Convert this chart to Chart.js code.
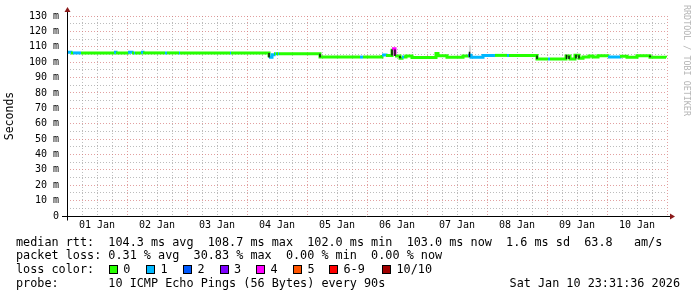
<!DOCTYPE html>
<html>
<head>
<meta charset="utf-8">
<script src="https://cdn.jsdelivr.net/npm/chart.js@4.4.1/dist/chart.umd.min.js"></script>
<style>
  html, body { margin: 0; padding: 0; background: #fff; }
  #wrap { position: relative; width: 697px; height: 297px; overflow: hidden; }
  .row { position: absolute; left: 16px; font-family: 'DejaVu Sans Mono', monospace; font-size: 11.8px; line-height: 14px; white-space: pre; color: #000; }
  .sq { position: absolute; width: 7px; height: 7px; border: 1px solid #000; }
  .lbl { position: absolute; font-family: 'DejaVu Sans Mono', monospace; font-size: 11.8px; line-height: 14px; white-space: pre; }
  #stamp { position: absolute; left: 0; top: 0; font-family: 'DejaVu Sans Mono', monospace; font-size: 8.4px; color: #b4b4b4; white-space: pre; transform-origin: 0 0; transform: translate(692px, 5px) rotate(90deg); }
</style>
</head>
<body>
<div id="wrap">
  <canvas id="rtt" width="697" height="297"></canvas>
  <div id="stamp">RRDTOOL / TOBI OETIKER</div>
  <div class="row" style="top:234.5px">median rtt:  104.3 ms avg  108.7 ms max  102.0 ms min  103.0 ms now  1.6 ms sd  63.8   am/s</div>
  <div class="row" style="top:248px">packet loss: 0.31 % avg  30.83 % max  0.00 % min  0.00 % now</div>
  <div class="row" style="top:262px">loss color:</div>
  <div class="row" style="top:276px">probe:       10 ICMP Echo Pings (56 Bytes) every 90s</div>
  <div class="row" style="top:276px; left:auto; right:17px">Sat Jan 10 23:31:36 2026</div>
  <div id="legend"></div>
</div>
<script>
// 時間軸：從 01 Jan 00:00 起算的小時數
const hours = [0, 1.6, 2.4, 5.6, 18.8, 19.6, 24.4, 26, 26.8, 27.2, 29.6, 30.4, 39.2, 40, 44.8, 45.2,
  65.2, 65.6, 80.8, 82, 82.8, 83.2, 83.6, 84.4, 84.8, 101.2, 117.2, 118.4, 126, 127.6, 130, 131.2,
  133.2, 134, 134.8, 135.6, 138, 147.6, 148.4, 152, 158.4, 160.4, 161.6, 166.4, 171.2, 176, 176.8,
  188, 192.4, 193.2, 199.6, 201.2, 203.2, 204.8, 206.4, 208.8, 210.4, 212.4, 216.4, 221.2, 224,
  228, 233.2, 239.6];
// median rtt (ms)
const medianMs = [106.5, 106.0, 106.0, 106.0, 106.4, 106.0, 106.4, 106.0, 106.0, 106.0, 106.4, 106.0, 106.0, 106.0, 106.0, 106.0,
  106.0, 106.0, 103.2, 104.8, 105.4, 105.4, 105.4, 105.4, 105.4, 103.3, 103.3, 103.3, 104.6, 104.3, 108.7, 104.0,
  102.6, 103.3, 103.3, 104.0, 103.0, 105.6, 104.2, 103.2, 104.0, 104.5, 103.2, 104.4, 104.4, 104.4, 104.4,
  102.1, 102.1, 102.1, 104.0, 102.1, 104.5, 102.6, 103.3, 104.0, 103.4, 104.1, 103.4, 103.9, 103.2,
  104.2, 103.2, 103.0];
// 每個區段遺失的封包數 (0~10)
const lossCount = [1, 0, 1, 0, 1, 0, 1, 0, 1, 0, 1, 0, 1, 0, 1, 0,
  1, 0, 1, 1, 0, 1, 0, 1, 0, 0, 1, 0, 1, 0, 4, 0,
  0, 1, 0, 0, 0, 0, 0, 0, 0, 1, 1, 1, 0, 1, 0,
  0, 1, 0, 0, 0, 0, 0, 0, 0, 0, 0, 1, 0, 0,
  0, 0, 0];

// 深色的垂直煙霧線
const spikeHours = [80.8, 101.2, 130, 131.2, 133.2, 161, 188, 199.8, 200.8, 203.6, 204.8, 233.2];
const spikeLow   = [103.0, 103.2, 104.3, 104.0, 102.6, 103.2, 102.1, 102.1, 102.1, 102.4, 102.4, 103.2];
const spikeHigh  = [106.0, 105.4, 108.2, 108.2, 104.0, 106.8, 104.4, 104.8, 104.2, 104.8, 104.5, 104.4];
// 淺灰煙霧
const smokeHours = [161.2];
const smokeLow   = [104.0];
const smokeHigh  = [110.8];

const dayLabels = ['01 Jan', '02 Jan', '03 Jan', '04 Jan', '05 Jan', '06 Jan', '07 Jan', '08 Jan', '09 Jan', '10 Jan'];
const lossNames = ['0', '1', '2', '3', '4', '5', '6-9', '10/10'];
const lossColors = ['#26ff00', '#00b8ff', '#0059ff', '#7e00ff', '#ff00ff', '#ff5500', '#ff0000', '#a10000'];

function colorForLoss(n) {
  if (n <= 5) return lossColors[n];
  if (n < 10) return lossColors[6];
  return lossColors[7];
}

function pairs(xs, lo, hi) {
  return xs.flatMap((h, i) => [{x: h, y: lo[i]}, {x: h, y: hi[i]}, {x: h, y: null}]);
}

// 圖例色塊
const legendX = [108.7, 146, 183, 219.5, 256, 293, 329, 382];
const legend = document.getElementById('legend');
lossNames.forEach((name, i) => {
  const sq = document.createElement('div');
  sq.className = 'sq';
  sq.style.left = legendX[i] + 'px';
  sq.style.top = '265px';
  sq.style.background = lossColors[i];
  legend.appendChild(sq);
  const t = document.createElement('div');
  t.className = 'lbl';
  t.style.left = (legendX[i] + 14.5) + 'px';
  t.style.top = '262px';
  t.innerText = name;
  legend.appendChild(t);
});

const RED_GRID = 'rgba(214, 120, 120, 0.7)';
const GRAY_GRID = 'rgba(160, 160, 160, 0.7)';
const MONO = 'DejaVu Sans Mono';

// 軸線與箭頭
const axisArrows = {
  id: 'axisArrows',
  afterDraw(chart) {
    const {ctx, chartArea} = chart;
    const x0 = chartArea.left + 0.5, y0 = chartArea.bottom + 0.5;
    ctx.save();
    ctx.strokeStyle = '#000';
    ctx.lineWidth = 1;
    ctx.beginPath();
    ctx.moveTo(62, y0);
    ctx.lineTo(671, y0);
    ctx.moveTo(x0, y0 + 4);
    ctx.lineTo(x0, 11);
    ctx.stroke();
    ctx.fillStyle = '#8b1a1a';
    ctx.beginPath();
    ctx.moveTo(670, y0 - 3);
    ctx.lineTo(675, y0);
    ctx.lineTo(670, y0 + 3);
    ctx.fill();
    ctx.beginPath();
    ctx.moveTo(x0 - 3, 12);
    ctx.lineTo(x0, 7);
    ctx.lineTo(x0 + 3, 12);
    ctx.fill();
    ctx.restore();
  }
};

new Chart(document.getElementById('rtt').getContext('2d'), {
  type: 'line',
  data: {
    datasets: [
      {
        data: pairs(smokeHours, smokeLow, smokeHigh),
        borderColor: '#bbbbbb',
        borderWidth: 1,
        pointRadius: 0,
        spanGaps: false,
        order: 3
      },
      {
        data: hours.map((h, i) => ({x: h, y: medianMs[i]})),
        stepped: 'before',
        borderWidth: 3,
        borderColor: lossColors[0],
        borderCapStyle: 'butt',
        borderJoinStyle: 'miter',
        pointRadius: 0,
        segment: {
          borderColor: c => colorForLoss(lossCount[c.p0DataIndex])
        },
        order: 2
      },
      {
        data: pairs(spikeHours, spikeLow, spikeHigh),
        borderColor: '#111111',
        borderWidth: 1.5,
        pointRadius: 0,
        spanGaps: false,
        order: 1
      }
    ]
  },
  options: {
    responsive: false,
    animation: false,
    events: [],
    layout: { padding: { left: 0, top: 16, right: 30, bottom: 61 } },
    plugins: { legend: { display: false }, tooltip: { enabled: false } },
    scales: {
      x: {
        type: 'linear',
        min: 0,
        max: 240,
        offset: false,
        afterFit: s => { s.height = 20; },
        border: { display: false, dash: [1, 2] },
        grid: {
          drawTicks: false,
          offset: false,
          color: c => (c.tick && c.tick.value % 24 === 0) ? RED_GRID : GRAY_GRID
        },
        ticks: {
          stepSize: 6,
          autoSkip: false,
          maxRotation: 0,
          padding: 3,
          color: '#000',
          font: { family: MONO, size: 10 },
          callback: v => (v % 24 === 12) ? dayLabels[(v - 12) / 24] : ''
        }
      },
      y: {
        min: 0,
        max: 130,
        afterFit: s => { s.width = 67; },
        border: { display: false, dash: [1, 2] },
        grid: {
          drawTicks: false,
          color: c => (c.tick && c.tick.value % 10 === 0) ? RED_GRID : GRAY_GRID
        },
        title: {
          display: true,
          text: 'Seconds',
          color: '#000',
          padding: { top: 3, bottom: 0 },
          font: { family: MONO, size: 11.5 }
        },
        ticks: {
          stepSize: 5,
          autoSkip: false,
          padding: 8,
          color: '#000',
          font: { family: MONO, size: 10 },
          callback: v => v === 0 ? '0' : (v % 10 === 0 ? v + ' m' : '')
        }
      }
    }
  },
  plugins: [axisArrows]
});
</script>
</body>
</html>
